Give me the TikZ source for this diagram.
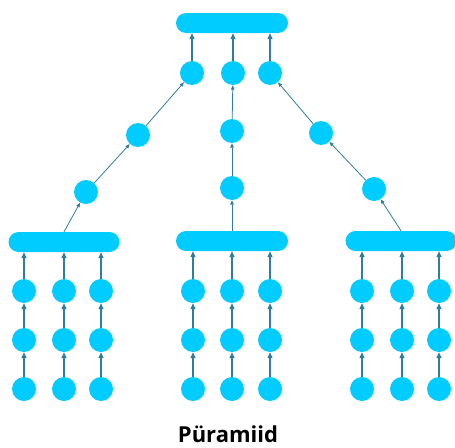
\documentclass[tikz,border=0pt]{standalone}
\usepackage{fontspec}
\setmainfont{Open Sans}
\usetikzlibrary{arrows.meta}
\definecolor{cyanfill}{HTML}{00CCFF}
\definecolor{arrowc}{HTML}{2F7F9C}
\begin{document}
\begin{tikzpicture}[x=1pt,y=-1pt,
  dot/.style={circle,fill=cyanfill,draw=none,minimum size=24pt,inner sep=0pt},
  bar/.style={rounded corners=10pt,fill=cyanfill,draw=none,minimum width=112pt,minimum height=20pt,inner sep=0pt},
  up/.style={draw=arrowc,line width=1.3pt,-{Triangle[length=6pt,width=5pt]}},
  diag/.style={draw=arrowc,line width=0.8pt,-{Triangle[length=4.5pt,width=3.5pt]}}]
\useasboundingbox (0,0) rectangle (455,447);
% top
\node[bar] (top) at (232,23) {};
\node[dot] (t1) at (192,73) {};
\node[dot] (t2) at (233,73) {};
\node[dot] (t3) at (270,73) {};
% chains
\node[dot] (l2) at (138,135) {};
\node[dot] (l1) at (86,192) {};
\node[dot] (c2) at (232,131) {};
\node[dot] (c1) at (232,188) {};
\node[dot] (r2) at (321,133) {};
\node[dot] (r1) at (374,189) {};
% bars
\node[bar,minimum width=111pt] (bl) at (64,242) {};
\node[bar] (bc) at (232,241) {};
\node[bar,minimum width=111pt] (br) at (401,241) {};
% columns
\foreach \b/\xa/\xb/\xc in {bl/24/64/101, bc/193/232/270, br/362/402/439}{
  \foreach \x [count=\i] in {\xa,\xb,\xc}{
    \node[dot] (\b a\i) at (\x,291) {};
    \node[dot] (\b b\i) at (\x,340) {};
    \node[dot] (\b c\i) at (\x,389) {};
    \draw[up] (\b c\i) -- (\b b\i);
    \draw[up] (\b b\i) -- (\b a\i);
    \draw[up] (\b a\i.north) -- (\b a\i.north |- \b.south);
  }
}
% top arrows
\draw[up] (t1.north) -- (t1.north |- top.south);
\draw[up] (t2.north) -- (t2.north |- top.south);
\draw[up] (t3.north) -- (t3.north |- top.south);
% chains
\draw[diag] (bl.north) -- (l1);
\draw[diag] (l1) -- (l2);
\draw[diag] (l2) -- (t1);
\draw[diag] (bc.north) -- (c1);
\draw[diag] (c1) -- (c2);
\draw[diag] (c2) -- (t2);
\draw[diag] (br.north) -- (r1);
\draw[diag] (r1) -- (r2);
\draw[diag] (r2) -- (t3);
% title
\node[font=\bfseries\fontsize{22}{26}\selectfont,anchor=base,inner sep=0pt] (title) at (228,442.5) {Püramiid};
\end{tikzpicture}
\end{document}
